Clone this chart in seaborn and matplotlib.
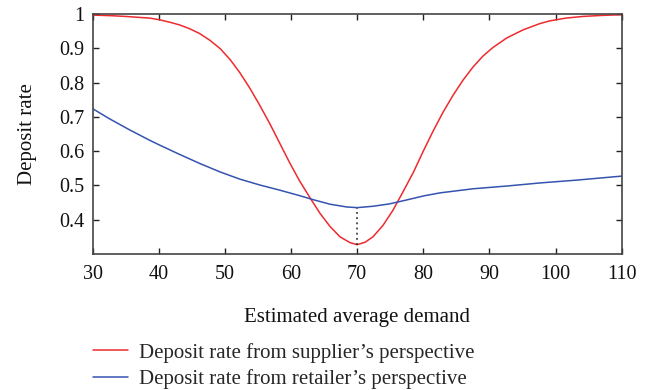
import numpy as np
import pandas as pd
import matplotlib
matplotlib.use("Agg")
import matplotlib.pyplot as plt
import seaborn as sns
from matplotlib.ticker import FuncFormatter
from matplotlib.lines import Line2D

# --- data ---
demand_s = [30, 33, 35, 38.7, 40.2, 41.7, 43.2, 44.7, 46.2, 47.7, 49.3, 50.8, 52.3,
            53.8, 55.3, 56.8, 58.3, 59.8, 61.3, 62.9, 64.4, 65.9, 67.4, 68.9, 70.0,
            71.2, 72.4, 73.9, 75.4, 76.9, 78.5, 80.0, 81.5, 83.0, 84.5, 86.0, 87.5,
            89.0, 90.5, 92.6, 95.1, 97.6, 99.1, 101.5, 104.1, 107, 110]
supplier = [0.997, 0.995, 0.993, 0.988, 0.983, 0.976, 0.968, 0.957, 0.943, 0.924,
            0.899, 0.867, 0.828, 0.783, 0.733, 0.680, 0.623, 0.566, 0.513, 0.463,
            0.418, 0.380, 0.350, 0.333, 0.327, 0.334, 0.350, 0.383, 0.427, 0.480,
            0.538, 0.600, 0.659, 0.714, 0.763, 0.807, 0.845, 0.877, 0.902, 0.930,
            0.954, 0.972, 0.980, 0.988, 0.993, 0.996, 0.998]
demand_r = [30, 32.5, 35.7, 38.7, 40.2, 43.2, 46.2, 49.3, 52.3, 55.3, 58.3, 61.3,
            63.4, 65.9, 68.4, 70.0, 72.4, 74.9, 77.4, 80.0, 82.5, 87.5, 92.6, 97.6,
            103, 110]
retailer = [0.724, 0.695, 0.661, 0.631, 0.617, 0.590, 0.564, 0.539, 0.518, 0.501,
            0.486, 0.470, 0.458, 0.445, 0.437, 0.435, 0.439, 0.446, 0.457, 0.469,
            0.478, 0.490, 0.498, 0.507, 0.515, 0.527]
series_names = ["Deposit rate from supplier\u2019s perspective",
                "Deposit rate from retailer\u2019s perspective"]
marker_x = 70
marker_lo = 0.327
marker_hi = 0.435
xticks = [30, 40, 50, 60, 70, 80, 90, 100, 110]
yticks = [0.4, 0.5, 0.6, 0.7, 0.8, 0.9, 1.0]

df = pd.concat([
    pd.DataFrame({"demand": demand_s, "rate": supplier, "series": series_names[0]}),
    pd.DataFrame({"demand": demand_r, "rate": retailer, "series": series_names[1]}),
])

sns.set_style("ticks")
plt.rcParams["font.family"] = ["Liberation Serif", "DejaVu Serif"]

fig = plt.figure(figsize=(6.47, 3.90), dpi=100)
ax = fig.add_axes([0.143, 0.349, 0.818, 0.615])

palette = {series_names[0]: "#ee2a2f", series_names[1]: "#3553b0"}
sns.lineplot(data=df, x="demand", y="rate", hue="series", palette=palette,
             linewidth=1.1, ax=ax, legend=False)

ax.plot([marker_x, marker_x], [marker_lo, marker_hi], linestyle=(0, (1.2, 2.2)),
        color="#222222", linewidth=1.1)

ax.set_xlim(30, 110)
ax.set_ylim(0.3, 1.0)
ax.set_xticks(xticks)
ax.set_yticks(yticks)
ax.yaxis.set_major_formatter(FuncFormatter(lambda v, p: f"{v:g}"))
ax.tick_params(direction="in", length=4, width=1.0, top=True, right=True,
               labelsize=14.5, colors="#222222", labelcolor="#111111", pad=6)
ax.tick_params(axis="x", pad=8)
for s in ax.spines.values():
    s.set_color("#444444")
    s.set_linewidth(1.2)
    s.set_visible(True)

ax.set_xlabel("Estimated average demand", fontsize=15, color="#111111", labelpad=17)
ax.set_ylabel("Deposit rate", fontsize=15, color="#111111", labelpad=16)

handles = [Line2D([], [], color=palette[n], linewidth=1.1) for n in series_names]
fig.legend(handles, series_names, loc="upper left", bbox_to_anchor=(0.1437, 0.121),
           frameon=False, fontsize=15, handlelength=1.7, handletextpad=0.5,
           labelspacing=0.3, borderaxespad=0, borderpad=0)

fig.savefig("out.png", dpi=100)
